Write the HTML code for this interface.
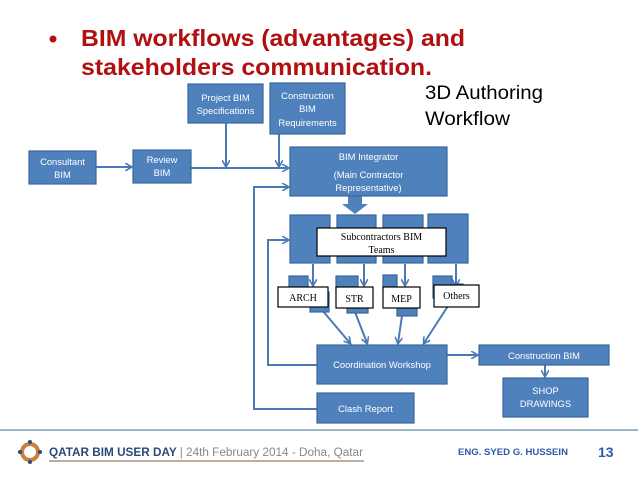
<!DOCTYPE html>
<html><head><meta charset="utf-8"><style>
html,body{margin:0;padding:0;background:#fff;}
svg{display:block;}
.b{fill:#4f81bd;stroke:#3a679c;stroke-width:1.2;}
.w{fill:#fff;stroke:#000;stroke-width:1.2;}
.t{font-family:"Liberation Sans",sans-serif;font-size:9.4px;fill:#fff;text-anchor:middle;}
.s{font-family:"Liberation Serif",serif;font-size:10px;fill:#000;text-anchor:middle;}
.l{stroke:#4a7ab5;stroke-width:2;fill:none;}
</style></head><body>
<svg width="638" height="479" viewBox="0 0 638 479" xmlns="http://www.w3.org/2000/svg">
<defs><marker id="a" markerWidth="8" markerHeight="8" refX="6" refY="4" orient="auto" markerUnits="userSpaceOnUse"><path d="M0,0 L7,4 L0,8" fill="none" stroke="#4a7ab5" stroke-width="1.6"/></marker></defs>
<g font-family="Liberation Sans, sans-serif" font-weight="bold" font-size="23" fill="#b01010">
<circle cx="53" cy="39" r="3.5" fill="#b01010"/>
<text x="81" y="46" textLength="384" lengthAdjust="spacingAndGlyphs">BIM workflows (advantages) and</text>
<text x="81" y="75" textLength="351" lengthAdjust="spacingAndGlyphs">stakeholders communication.</text>
</g>
<text x="425" y="99" font-family="Liberation Sans, sans-serif" font-size="19" fill="#000" textLength="118" lengthAdjust="spacingAndGlyphs">3D Authoring</text>
<text x="425" y="125" font-family="Liberation Sans, sans-serif" font-size="19" fill="#000" textLength="85" lengthAdjust="spacingAndGlyphs">Workflow</text>

<!-- lines -->
<path class="l" d="M96,167 L131,167" marker-end="url(#a)"/>
<path class="l" d="M191,168 L288,168" marker-end="url(#a)"/>
<path class="l" d="M226,123 L226,166" marker-end="url(#a)"/>
<path class="l" d="M279,134 L279,166" marker-end="url(#a)"/>
<path class="l" d="M317,409 L254,409 L254,187 L288,187" marker-end="url(#a)"/>
<path class="l" d="M317,365 L268,365 L268,240 L288,240" marker-end="url(#a)"/>
<path class="l" d="M313,264 L313,285" marker-end="url(#a)"/>
<path class="l" d="M364,264 L364,285" marker-end="url(#a)"/>
<path class="l" d="M405,264 L405,285" marker-end="url(#a)"/>
<path class="l" d="M456,264 L456,285" marker-end="url(#a)"/>
<path class="l" d="M322,310 L350,343" marker-end="url(#a)"/>
<path class="l" d="M355,312 L367,343" marker-end="url(#a)"/>
<path class="l" d="M402,316 L398,343" marker-end="url(#a)"/>
<path class="l" d="M448,306 L424,343" marker-end="url(#a)"/>
<path class="l" d="M447,355 L477,355" marker-end="url(#a)"/>
<path class="l" d="M545,365 L545,376" marker-end="url(#a)"/>
<path d="M348,196 L362,196 L362,204 L368,204 L355,214 L342,204 L348,204 Z" fill="#4f81bd"/>

<!-- boxes -->
<rect class="b" x="188" y="84" width="75" height="39"/>
<text class="t" x="225.5" y="101">Project BIM</text><text class="t" x="225.5" y="114">Specifications</text>
<rect class="b" x="270" y="83" width="75" height="51"/>
<text class="t" x="307.5" y="99">Construction</text><text class="t" x="307.5" y="112">BIM</text><text class="t" x="307.5" y="126">Requirements</text>
<rect class="b" x="29" y="151" width="67" height="33"/>
<text class="t" x="62.5" y="165">Consultant</text><text class="t" x="62.5" y="178">BIM</text>
<rect class="b" x="133" y="150" width="58" height="33"/>
<text class="t" x="162" y="163">Review</text><text class="t" x="162" y="176">BIM</text>
<rect class="b" x="290" y="147" width="157" height="49"/>
<text class="t" x="368.5" y="160">BIM Integrator</text>
<text class="t" x="368.5" y="178">(Main Contractor</text><text class="t" x="368.5" y="191">Representative)</text>

<rect class="b" x="290" y="215" width="40" height="48"/>
<rect class="b" x="337" y="215" width="39" height="48"/>
<rect class="b" x="383" y="215" width="40" height="48"/>
<rect class="b" x="428" y="214" width="40" height="49"/>
<rect class="w" x="317" y="228" width="129" height="28"/>
<text class="s" x="381.5" y="240">Subcontractors BIM</text><text class="s" x="381.5" y="253">Teams</text>

<rect class="b" x="289" y="276" width="19" height="16"/><rect class="b" x="310" y="292" width="19" height="20"/>
<rect class="b" x="336" y="276" width="22" height="16"/><rect class="b" x="347" y="292" width="21" height="21"/>
<rect class="b" x="383" y="275" width="14" height="17"/><rect class="b" x="397" y="306" width="20" height="10"/>
<rect class="b" x="433" y="276" width="19" height="22"/><rect class="b" x="452" y="284" width="11" height="22"/>
<rect class="w" x="278" y="287" width="50" height="20"/><text class="s" x="303" y="301">ARCH</text>
<rect class="w" x="336" y="287" width="37" height="21"/><text class="s" x="354.5" y="302">STR</text>
<rect class="w" x="383" y="287" width="37" height="21"/><text class="s" x="401.5" y="302">MEP</text>
<rect class="w" x="434" y="285" width="45" height="22"/><text class="s" x="456.5" y="299">Others</text>

<rect class="b" x="317" y="345" width="130" height="39"/>
<text class="t" x="382" y="368">Coordination Workshop</text>
<rect class="b" x="479" y="345" width="130" height="20"/>
<text class="t" x="544" y="359">Construction BIM</text>
<rect class="b" x="503" y="378" width="85" height="39"/>
<text class="t" x="545.5" y="394">SHOP</text><text class="t" x="545.5" y="407">DRAWINGS</text>
<rect class="b" x="317" y="393" width="97" height="30"/>
<text class="t" x="365.5" y="412">Clash Report</text>

<!-- footer -->
<line x1="0" y1="430" x2="638" y2="430" stroke="#7f9db9" stroke-width="1.5"/>
<circle cx="30" cy="452" r="8" fill="none" stroke="#c8803a" stroke-width="4"/>
<circle cx="30" cy="442" r="2" fill="#2a4a8a"/><circle cx="30" cy="462" r="2" fill="#2a4a8a"/>
<circle cx="20" cy="452" r="2" fill="#2a4a8a"/><circle cx="40" cy="452" r="2" fill="#2a4a8a"/>
<text x="49" y="456" font-family="Liberation Sans, sans-serif" font-size="11.5" font-weight="bold" fill="#2a4a7a" textLength="314" lengthAdjust="spacingAndGlyphs">QATAR BIM USER DAY <tspan fill="#888" font-weight="normal">| 24th February 2014 - Doha, Qatar</tspan></text>
<line x1="49" y1="461" x2="364" y2="461" stroke="#a89482" stroke-width="1.5"/>
<text x="458" y="455" font-family="Liberation Sans, sans-serif" font-size="9" font-weight="bold" fill="#2d5aa8" textLength="110" lengthAdjust="spacingAndGlyphs">ENG. SYED G. HUSSEIN</text>
<text x="598" y="457" font-family="Liberation Sans, sans-serif" font-size="14" font-weight="bold" fill="#2d5aa8">13</text>
</svg>
</body></html>
